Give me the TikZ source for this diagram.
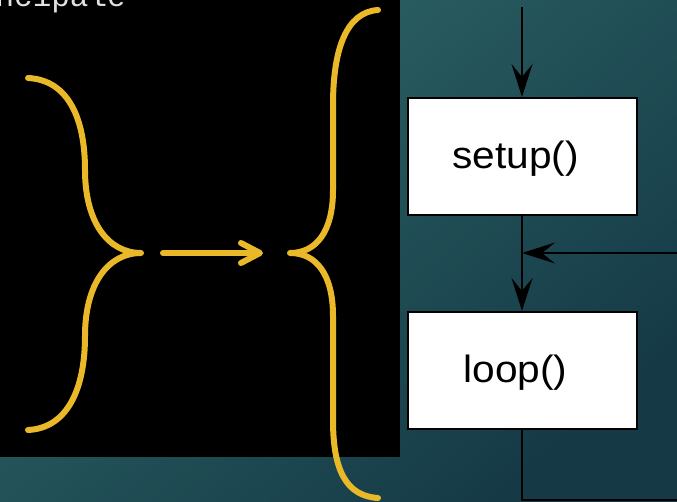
\documentclass[tikz,border=0pt]{standalone}
\usepackage{fontspec}
\setmainfont{Liberation Sans}
\newfontfamily\monofont{Liberation Mono}
\usetikzlibrary{arrows.meta}
\definecolor{gold}{RGB}{233,185,42}
\definecolor{bgA}{RGB}{46,102,104}
\definecolor{bgB}{RGB}{21,58,70}
\definecolor{txtgray}{RGB}{225,225,225}
\tikzset{
  brace/.style={draw=gold, line width=6pt, line cap=round, line join=round},
  flowbox/.style={draw=black, line width=2pt, fill=white, minimum width=229pt, minimum height=117pt, inner sep=0pt, text height=32pt, text depth=8pt, font=\fontsize{38}{42}\selectfont},
  flowline/.style={draw=black, line width=2pt},
  flowarrow/.style={flowline, -{Stealth[length=33pt,width=21pt,inset=13pt]}},
  goldarrow/.style={brace, -{Straight Barb[length=19pt,width=20pt,round]}},
}
\begin{document}
\begin{tikzpicture}[x=1pt,y=-1pt]
\useasboundingbox (0,0) rectangle (677,502);
\clip (0,0) rectangle (677,502);
% background
\shade[top color=bgA, bottom color=bgB, shading angle=40] (0,0) rectangle (677,502);
\fill[black] (0,0) rectangle (400,457);
% title fragment
\node[anchor=base east, inner sep=0pt, text=txtgray, font=\monofont\fontsize{31}{31}\selectfont] (title) at (126,7) {ncipale};
% left brace
\draw[brace] (28,78) .. controls (68,80) and (85,118) .. (85,170)
  .. controls (85,222) and (108,253) .. (141,253)
  .. controls (108,253) and (85,284) .. (85,336)
  .. controls (85,388) and (68,428) .. (28,430);
% right brace
\draw[brace] (378,10) .. controls (346,12) and (333,50) .. (333,105)
  -- (333,190) .. controls (333,232) and (316,253) .. (290,253)
  .. controls (316,253) and (333,274) .. (333,316)
  -- (333,420) .. controls (333,470) and (346,496) .. (378,498);
% yellow arrow
\coordinate (ga) at (163,253);
\coordinate (gb) at (263,253);
\draw[goldarrow] (ga) -- (gb);
% flowchart
\node[flowbox] (setup) at (522,156.5) {\scalebox{1.07}[1]{setup()}\kern13pt};
\node[flowbox] (loop) at (522,370.5) {\scalebox{1.07}[1]{loop()}\kern13pt};
\coordinate (top) at (522,7);
\coordinate (join) at (522,253);
\coordinate (inR) at (680,253);
\coordinate (bot) at (522,500);
\coordinate (botR) at (680,500);
\draw[flowarrow] (top) -- (setup.north);
\draw[flowarrow] (setup.south) -- (loop.north);
\draw[flowarrow] (inR) -- (join);
\draw[flowline] (loop.south) -- (bot) -- (botR);
\end{tikzpicture}
\end{document}
